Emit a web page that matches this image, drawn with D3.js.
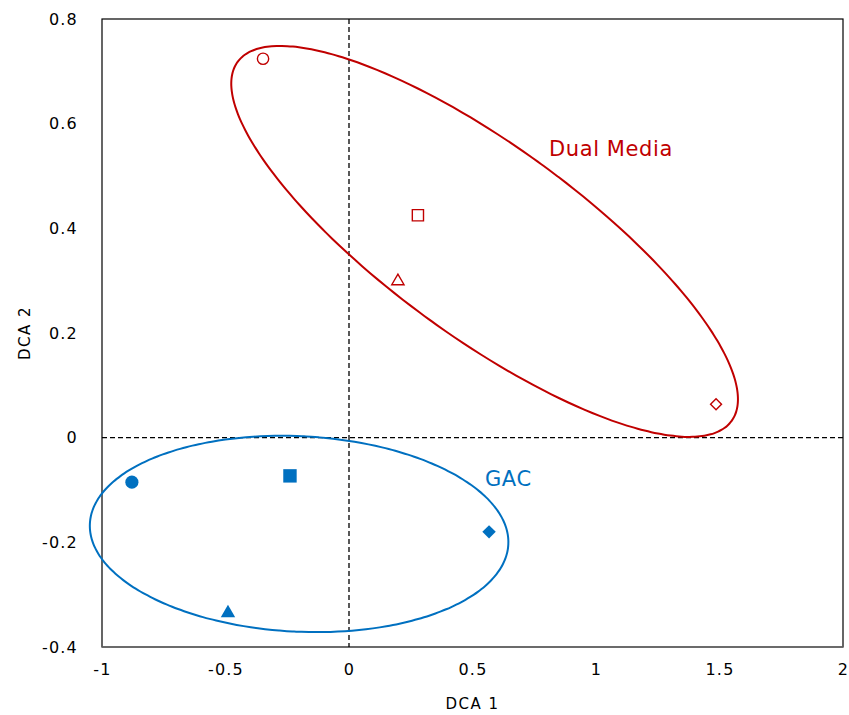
<!DOCTYPE html>
<html>
<head>
<meta charset="utf-8">
<script src="https://cdn.jsdelivr.net/npm/d3@7"></script>
<style>
  body { margin: 0; background: #fff; }
  text { font-family: "DejaVu Sans", Verdana, sans-serif; }
</style>
</head>
<body>
<script>
// sample scores on the two DCA axes
var dualX = [-0.348, 0.279, 0.198, 1.486];
var dualY = [0.724, 0.425, 0.299, 0.064];
var gacX = [-0.879, -0.239, -0.49, 0.567];
var gacY = [-0.085, -0.073, -0.335, -0.180];
var shapes = ["circle", "square", "triangle", "diamond"];

// ellipses: centre and two conjugate semi-axis vectors, in data units
var dualEllipse = [0.549, 0.375, 1.000, -0.343, -0.228, -0.148];
var gacEllipse = [-0.202, -0.184, 0.847, -0.020, -0.020, -0.1865];

var xTicks = [-1, -0.5, 0, 0.5, 1, 1.5, 2];
var yTicks = [-0.4, -0.2, 0, 0.2, 0.4, 0.6, 0.8];

var red = "#C00000", blue = "#0070C0";
var W = 849, H = 715;
var m = {left: 102, top: 19, right: 6, bottom: 68};

var svg = d3.select("body").append("svg").attr("width", W).attr("height", H);

var x = d3.scaleLinear().domain([-1, 2]).range([m.left, W - m.right]);
var y = d3.scaleLinear().domain([-0.4, 0.8]).range([H - m.bottom, m.top]);

// frame
svg.append("rect")
    .attr("x", x(-1)).attr("y", y(0.8))
    .attr("width", x(2) - x(-1)).attr("height", y(-0.4) - y(0.8))
    .attr("fill", "none").attr("stroke", "#000").attr("stroke-width", 1.2);
svg.append("line")
    .attr("x1", x(-1)).attr("x2", x(2)).attr("y1", y(-0.4)).attr("y2", y(-0.4))
    .attr("stroke", "#6e6e6e").attr("stroke-width", 1.6);

// axes (labels only)
var fmt = function(d) { return String(d); };
var xAxis = svg.append("g").attr("transform", "translate(0," + (y(-0.4) + 14) + ")")
    .call(d3.axisBottom(x).tickValues(xTicks).tickSize(0).tickFormat(fmt));
var yAxis = svg.append("g").attr("transform", "translate(" + (x(-1) - 21) + ",0)")
    .call(d3.axisLeft(y).tickValues(yTicks).tickSize(0).tickFormat(fmt));
[xAxis, yAxis].forEach(function(a) {
    a.select(".domain").remove();
    a.selectAll("text").attr("font-size", 16).attr("fill", "#000")
        .attr("letter-spacing", 1.2)
        .attr("font-family", "'DejaVu Sans', sans-serif");
});

svg.append("text").attr("x", (x(-1) + x(2)) / 2).attr("y", 709)
    .attr("text-anchor", "middle").attr("font-size", 15)
    .attr("letter-spacing", 1.5).text("DCA 1");
svg.append("text").attr("transform", "translate(30," + y(0.2) + ") rotate(-90)")
    .attr("text-anchor", "middle").attr("font-size", 15)
    .attr("letter-spacing", 1.5).text("DCA 2");

// zero lines
svg.append("line")
    .attr("x1", x(0)).attr("x2", x(0)).attr("y1", y(0.8)).attr("y2", y(-0.4))
    .attr("stroke", "#000").attr("stroke-width", 1.3).attr("stroke-dasharray", "5,3");
svg.append("line")
    .attr("x1", x(-1)).attr("x2", x(2)).attr("y1", y(0)).attr("y2", y(0))
    .attr("stroke", "#000").attr("stroke-width", 1.3).attr("stroke-dasharray", "5,3");

function ellipsePts(e) {
    return d3.range(0, 361, 2).map(function(deg) {
        var t = deg * Math.PI / 180;
        return [e[0] + e[2] * Math.cos(t) + e[4] * Math.sin(t),
                e[1] + e[3] * Math.cos(t) + e[5] * Math.sin(t)];
    });
}
var line = d3.line().x(function(d) { return x(d[0]); }).y(function(d) { return y(d[1]); })
    .curve(d3.curveCardinalClosed);

svg.append("path").attr("d", line(ellipsePts(dualEllipse)))
    .attr("fill", "none").attr("stroke", red).attr("stroke-width", 2);
svg.append("path").attr("d", line(ellipsePts(gacEllipse)))
    .attr("fill", "none").attr("stroke", blue).attr("stroke-width", 2);

var symTypes = {
    circle: d3.symbolCircle, square: d3.symbolSquare,
    triangle: d3.symbolTriangle, diamond: d3.symbolSquare
};
var sizeOpen = {circle: 100, square: 125, triangle: 65, diamond: 60};
var sizeFill = {circle: 135, square: 180, triangle: 90, diamond: 90};

function drawPoints(xs, ys, color, filled) {
    var sz = filled ? sizeFill : sizeOpen;
    svg.selectAll(null).data(xs).enter().append("path")
        .attr("transform", function(d, i) {
            var t = "translate(" + x(d) + "," + y(ys[i]) + ")";
            return shapes[i] === "diamond" ? t + " rotate(45)" : t;
        })
        .attr("d", function(d, i) {
            return d3.symbol().type(symTypes[shapes[i]]).size(sz[shapes[i]])();
        })
        .attr("fill", filled ? color : "#fff")
        .attr("stroke", color).attr("stroke-width", filled ? 0 : 1.4);
}
drawPoints(dualX, dualY, red, false);
drawPoints(gacX, gacY, blue, true);

svg.append("text").attr("x", 549).attr("y", 156).attr("font-size", 21)
    .attr("letter-spacing", 0.6).attr("fill", red).text("Dual Media");
svg.append("text").attr("x", 485).attr("y", 486).attr("font-size", 21)
    .attr("letter-spacing", 0.6).attr("fill", blue).text("GAC");
</script>
</body>
</html>
